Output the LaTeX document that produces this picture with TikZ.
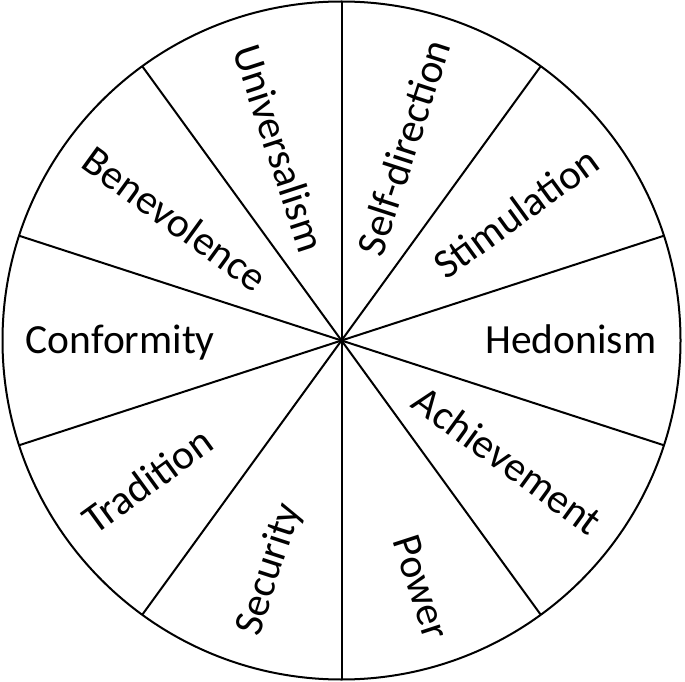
\documentclass[tikz,border=0pt]{standalone}
\usepackage{fontspec}
\setmainfont{Carlito}
\usetikzlibrary{calc}
\begin{document}
\begin{tikzpicture}[x=1pt,y=1pt,
  ring/.style={line width=2pt},
  spoke/.style={line width=2pt},
  lbl/.style={inner sep=0pt,text height=27pt,text depth=0pt,font=\fontsize{41.5}{48}\selectfont}]
\useasboundingbox (0,0) rectangle (685,681);
\coordinate (c) at (341.5,340.5);
\draw[ring] (c) circle (339);
\foreach \a in {18,54,90,126,162,198,234,270,306,342}{
  \coordinate (e\a) at ($(c)+(\a:339)$);
  \draw[spoke] (c) -- (e\a);
}
\fill (c) circle (3);
% outward labels
\node[lbl,rotate=0,anchor=east] (hed) at ($(c)+(0:315)$) {Hedonism};
\node[lbl,rotate=36,anchor=east] (sti) at ($(c)+(36:313)$) {Stimulation};
\node[lbl,rotate=72,anchor=east] (sel) at ($(c)+(72:315)$) {Self-direction};
\node[lbl,rotate=-72,anchor=east] (pow) at ($(c)+(288:313)$) {Power};
\node[lbl,rotate=-36,anchor=east] (ach) at ($(c)+(324:316)$) {Achievement};
% inward labels
\node[lbl,rotate=-72,anchor=west] (uni) at ($(c)+(108:310)$) {Universalism};
\node[lbl,rotate=-36,anchor=west] (ben) at ($(c)+(144:314)$) {Benevolence};
\node[lbl,rotate=0,anchor=west] (con) at ($(c)+(180:316)$) {Conformity};
\node[lbl,rotate=36,anchor=west] (tra) at ($(c)+(216:314)$) {Tradition};
\node[lbl,rotate=72,anchor=west] (sec) at ($(c)+(252:308)$) {Security};
\end{tikzpicture}
\end{document}
